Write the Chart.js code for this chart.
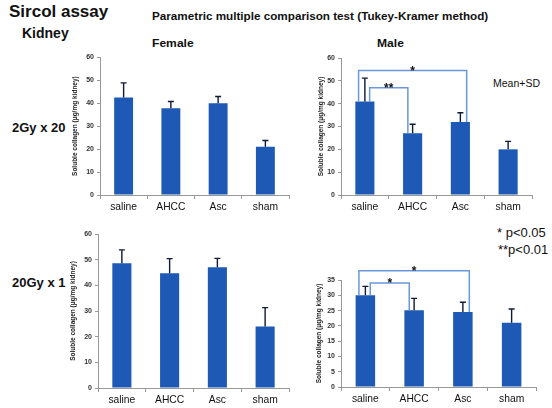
<!DOCTYPE html>
<html lang="en">
<head>
    <meta charset="UTF-8">
    <title>Sircol assay</title>
    <script src="https://cdn.jsdelivr.net/npm/chart.js"></script>
    <style>
        body {
            margin: 0;
            width: 552px;
            height: 408px;
            background: #fff;
            position: relative;
            overflow: hidden;
            font-family: 'Liberation Sans', Arial, sans-serif;
            color: #111;
        }
        .lbl {
            position: absolute;
            white-space: nowrap;
            line-height: 1;
        }
        .b { font-weight: bold; }
        canvas { position: absolute; }
    </style>
</head>
<body>
    <div class="lbl b" style="left:9px; top:3px; font-size:17px;">Sircol assay</div>
    <div class="lbl b" style="left:22px; top:26px; font-size:14px;">Kidney</div>
    <div class="lbl b" style="left:152px; top:10px; font-size:11.7px;">Parametric multiple comparison test (Tukey-Kramer method)</div>
    <div class="lbl b" style="left:152px; top:38px; font-size:11px; transform:scaleX(1.1); transform-origin:left;">Female</div>
    <div class="lbl b" style="left:377px; top:38px; font-size:11px; transform:scaleX(1.1); transform-origin:left;">Male</div>
    <div class="lbl b" style="left:12px; top:121px; font-size:13px;">2Gy x 20</div>
    <div class="lbl b" style="left:12px; top:276px; font-size:13px;">20Gy x 1</div>
    <div class="lbl" style="left:493px; top:78px; font-size:10.5px;">Mean+SD</div>
    <div class="lbl" style="left:497px; top:226px; font-size:13px;">* p&lt;0.05</div>
    <div class="lbl" style="left:498px; top:243px; font-size:13px;">**p&lt;0.01</div>

    <canvas id="female2Gy" width="235" height="167" style="left:60px; top:50px;"></canvas>
    <canvas id="male2Gy" width="240" height="167" style="left:301px; top:50px;"></canvas>
    <canvas id="female20Gy" width="240" height="184" style="left:58px; top:226px;"></canvas>
    <canvas id="male20Gy" width="240" height="154" style="left:301px; top:255px;"></canvas>

    <script>
        // données (moyenne + SD)
        const categories = ['saline', 'AHCC', 'Asc', 'sham'];

        const female2Gy = [42.5, 37.8, 40.0, 21.0];
        const female2GySD = [6.3, 2.9, 2.9, 2.7];
        const male2Gy = [41.0, 27.0, 32.0, 20.0];
        const male2GySD = [10.2, 4.0, 4.0, 3.5];

        const female20Gy = [48.6, 44.7, 47.0, 24.0];
        const female20GySD = [5.2, 5.7, 3.5, 7.3];
        const male20Gy = [30.0, 25.1, 24.5, 21.0];
        const male20GySD = [2.9, 3.9, 3.2, 4.5];

        // [from, to, level, label]
        const male2GyBrackets = [[0, 2, 54.5, '*'], [0, 1, 47.0, '**']];
        const male20GyBrackets = [[0, 2, 38.0, '*'], [0, 1, 34.0, '*']];

        const yTitle = 'Soluble collagen (\u03bcg/mg kidney)';

        Chart.defaults.font.family = "'Liberation Sans', Arial, sans-serif";
        Chart.defaults.color = '#222';

        const markPlugin = {
            id: 'marks',
            afterDatasetsDraw(chart, args, opts) {
                const ctx = chart.ctx;
                const y = chart.scales.y;
                const meta = chart.getDatasetMeta(0);
                const values = chart.data.datasets[0].data;
                ctx.save();

                // barres d'erreur (vers le haut seulement)
                ctx.strokeStyle = '#0f1a36';
                ctx.lineWidth = 1.4;
                opts.sd.forEach((sd, i) => {
                    const bar = meta.data[i];
                    const yTop = y.getPixelForValue(values[i] + sd);
                    ctx.beginPath();
                    ctx.moveTo(bar.x, bar.y);
                    ctx.lineTo(bar.x, yTop);
                    ctx.moveTo(bar.x - 3, yTop);
                    ctx.lineTo(bar.x + 3, yTop);
                    ctx.stroke();
                });

                // crochets de significativité
                const brackets = opts.brackets || [];
                const maxSpan = Math.max(...brackets.map(b => b[1] - b[0]));
                brackets.forEach(([from, to, level, label]) => {
                    const outer = (to - from) === maxSpan;
                    const a = meta.data[from], b = meta.data[to];
                    const off = (outer ? 0.33 : 0.25) * a.width;
                    const xl = outer ? a.x - off : a.x + off;
                    const xr = outer ? b.x + off : b.x - off;
                    const yl = y.getPixelForValue(level);
                    ctx.strokeStyle = '#6a98da';
                    ctx.lineWidth = 1.5;
                    ctx.beginPath();
                    ctx.moveTo(xl, y.getPixelForValue(values[from]));
                    ctx.lineTo(xl, yl);
                    ctx.lineTo(xr, yl);
                    ctx.lineTo(xr, y.getPixelForValue(values[to]));
                    ctx.stroke();
                    ctx.fillStyle = '#111';
                    ctx.font = "bold 12px 'Liberation Sans', Arial, sans-serif";
                    ctx.textAlign = 'center';
                    ctx.textBaseline = 'alphabetic';
                    ctx.fillText(label, (xl + xr) / 2, yl + 4);
                });
                ctx.restore();
            }
        };

        function makeChart(id, values, sd, maxY, step, pad, titlePad, brackets) {
            const ctx = document.getElementById(id).getContext('2d');
            return new Chart(ctx, {
                type: 'bar',
                data: {
                    labels: categories,
                    datasets: [{
                        data: values,
                        backgroundColor: '#1d59b5',
                        borderWidth: 0,
                        barPercentage: 0.4,
                        categoryPercentage: 1.0
                    }]
                },
                plugins: [markPlugin],
                options: {
                    responsive: false,
                    devicePixelRatio: 1,
                    animation: false,
                    layout: { padding: pad },
                    scales: {
                        x: {
                            afterFit: function(scale) { scale.height = 22; },
                            grid: {
                                drawOnChartArea: false,
                                color: '#999',
                                tickLength: 4
                            },
                            border: { color: '#999', width: 1 },
                            ticks: {
                                color: '#111',
                                padding: 2,
                                font: { size: 10.3 }
                            }
                        },
                        y: {
                            min: 0,
                            max: maxY,
                            afterFit: function(scale) { scale.width = 40; },
                            grid: {
                                drawOnChartArea: false,
                                color: '#999',
                                tickLength: 3
                            },
                            border: { color: '#999', width: 1 },
                            ticks: {
                                stepSize: step,
                                color: '#333',
                                padding: 3,
                                font: { size: 7, weight: 'bold' }
                            },
                            title: {
                                display: true,
                                text: yTitle,
                                color: '#222',
                                padding: { top: titlePad, bottom: 0 },
                                font: { size: 6.5, weight: 'bold' }
                            }
                        }
                    },
                    plugins: {
                        legend: { display: false },
                        tooltip: { enabled: false },
                        marks: { sd: sd, brackets: brackets }
                    }
                }
            });
        }

        makeChart('female2Gy', female2Gy, female2GySD, 60, 10,
            { top: 7, right: 6, left: 0, bottom: 0 }, 11, []);
        makeChart('male2Gy', male2Gy, male2GySD, 60, 10,
            { top: 8, right: 9, left: 0, bottom: 0 }, 16, male2GyBrackets);
        makeChart('female20Gy', female20Gy, female20GySD, 60, 10,
            { top: 8, right: 9, left: 0, bottom: 0 }, 11, []);
        makeChart('male20Gy', male20Gy, male20GySD, 35, 5,
            { top: 25, right: 5, left: 0, bottom: 0 }, 14, male20GyBrackets);
    </script>
</body>
</html>
